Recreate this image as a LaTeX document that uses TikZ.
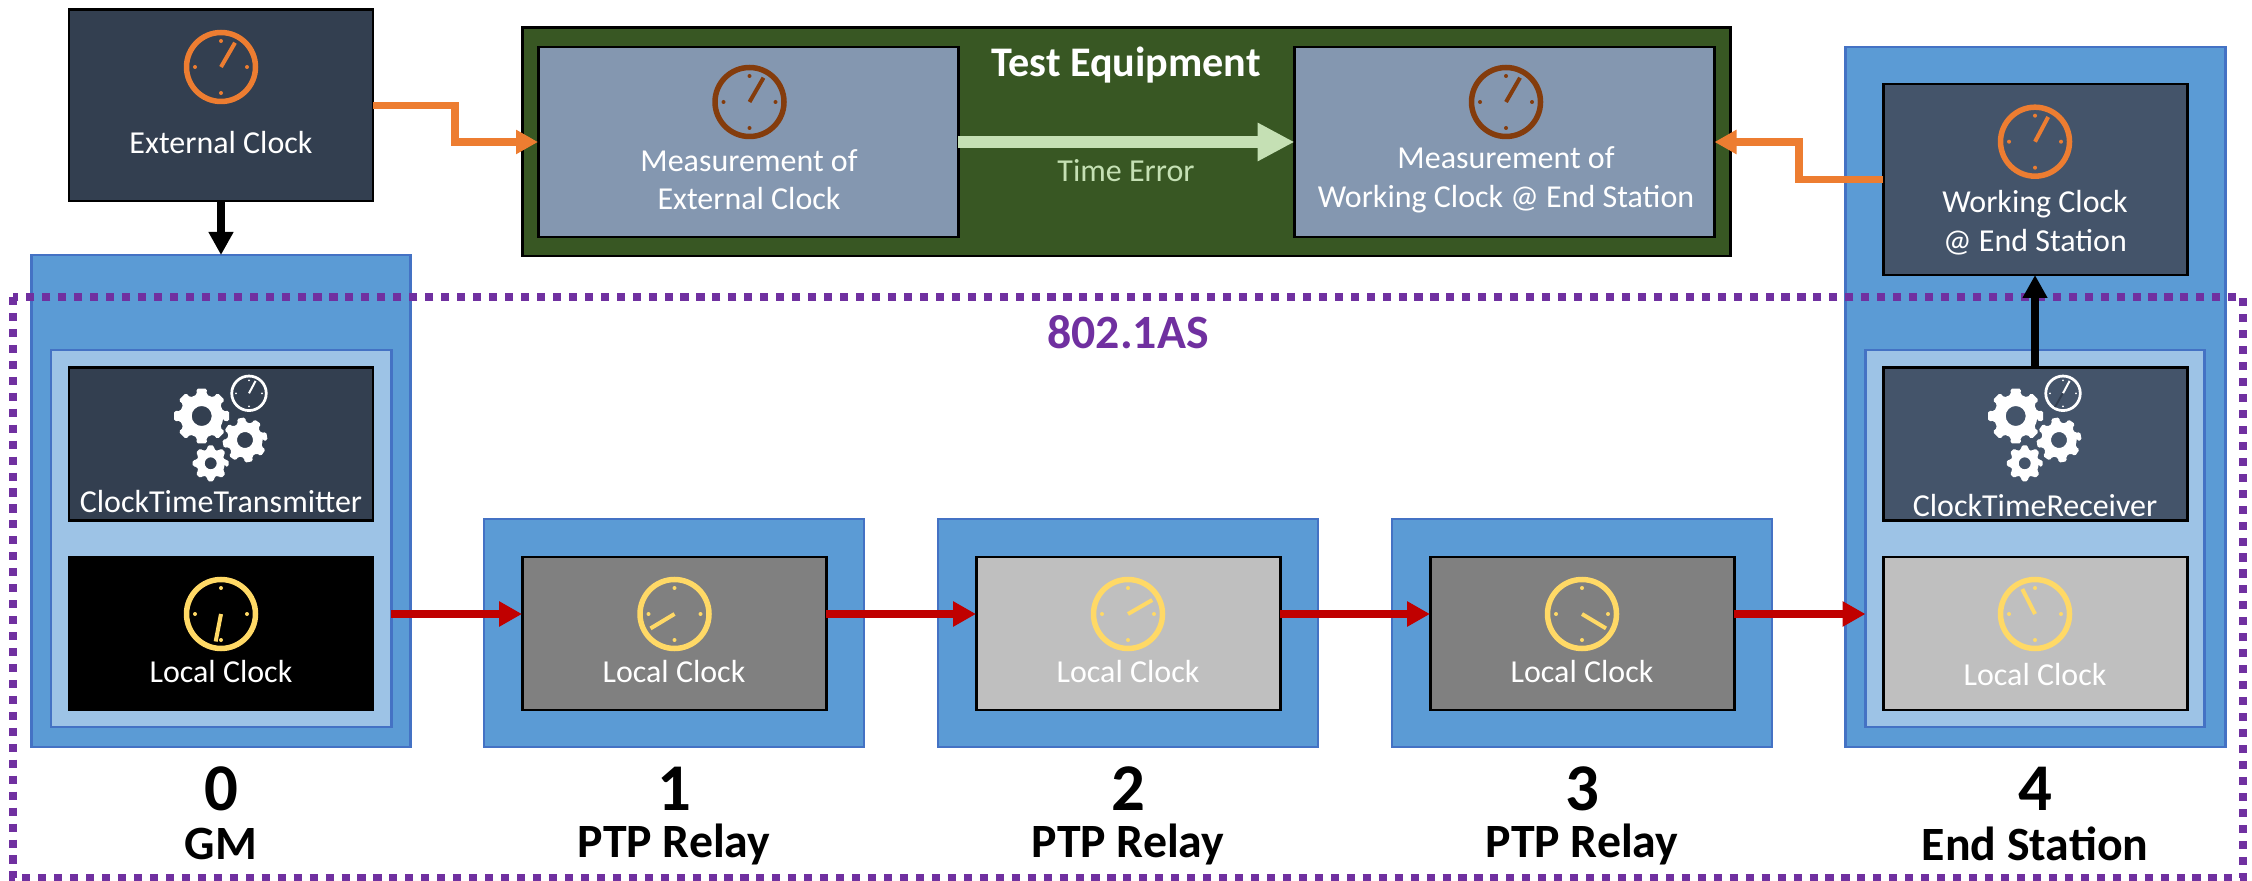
\documentclass[tikz,border=0pt]{standalone}
\usepackage{fontspec}
\setmainfont{Carlito}
\usetikzlibrary{arrows.meta,positioning}

\definecolor{navybox}{HTML}{333F50}
\definecolor{slatebox}{HTML}{44546A}
\definecolor{measbox}{HTML}{8497B0}
\definecolor{testgreen}{HTML}{385723}
\definecolor{timegreen}{HTML}{C5E0B4}
\definecolor{nodeblue}{HTML}{5B9BD5}
\definecolor{panelblue}{HTML}{9DC3E6}
\definecolor{edgeblue}{HTML}{4472C4}
\definecolor{clockorange}{HTML}{ED7D31}
\definecolor{clockbrown}{HTML}{843C0C}
\definecolor{clockyellow}{HTML}{FFD966}
\definecolor{syncpurple}{HTML}{7030A0}
\definecolor{syncred}{HTML}{C00000}

% x, y, color, angle of the hand, size
\newcommand{\drawclock}[5]{
  \begin{scope}[shift={(#1,#2)}, scale=#5]
    \draw[#3, line width={#5*0.055cm}] (0,0) circle (0.345);
    \draw[#3, line width={#5*0.04cm}] (0,0) -- (#4:0.28);
    \fill[#3] (0,0.26) circle (0.02) (0.26,0) circle (0.02) (0,-0.26) circle (0.02) (-0.26,0) circle (0.02);
  \end{scope}
}
% x, y, outer radius, hole radius, rotation
\newcommand{\drawgear}[5]{
  \fill[white, even odd rule, rounded corners=0.5pt, shift={(#1,#2)}, rotate=#5]
    (-12.5:#3*0.78)
    \foreach \k in {0,...,7} {
      -- (\k*45-11:#3) -- (\k*45+11:#3) -- (\k*45+12.5:#3*0.78) -- (\k*45+32.5:#3*0.78)
    } -- cycle (0,0) circle (#4);
}
% the three gears with the small clock, around the box center
\newcommand{\drawgears}[1]{
  \drawgear{#1-0.193}{-4.16}{0.28}{0.10}{0}
  \drawgear{#1+0.24}{-4.40}{0.227}{0.08}{10}
  \drawgear{#1-0.103}{-4.633}{0.183}{0.06}{0}
  \drawclock{#1+0.28}{-3.933}{white}{62}{0.5}
}

\begin{document}
\begin{tikzpicture}[
    >=Triangle,
    darkbox/.style={rectangle, draw=black, line width=0.85pt, outer sep=0pt, minimum width=3.04cm, minimum height=1.53cm},
    station/.style={rectangle, draw=edgeblue, fill=nodeblue, line width=0.6pt, outer sep=0pt},
    panel/.style={rectangle, draw=edgeblue, fill=panelblue, line width=0.85pt, outer sep=0pt},
    meas/.style={rectangle, draw=black, fill=measbox, line width=0.85pt, outer sep=0pt, minimum width=4.2cm, minimum height=1.9cm},
    txt/.style={text=white, align=center, inner sep=0pt, font=\fontsize{9.1}{11}\selectfont},
    bignum/.style={inner sep=0pt, font=\fontsize{19}{22}\selectfont\bfseries},
    role/.style={inner sep=0pt, font=\fontsize{13.6}{16}\selectfont\bfseries},
    blackarrow/.style={->, >={Triangle[length=2.3mm,width=2.35mm]}, line width=2.25pt, black},
    orangearrow/.style={->, >={Triangle[length=2.2mm,width=2.3mm]}, line width=2.15pt, clockorange},
    redarrow/.style={->, >={Triangle[length=2.3mm,width=2.4mm]}, line width=2.5pt, syncred}
]
\useasboundingbox (0,0) rectangle (22.52,-8.81);

% Test equipment on top
\node[rectangle, draw=black, fill=testgreen, line width=0.85pt, outer sep=0pt, minimum width=12.08cm, minimum height=2.28cm] (test) at (11.26,-1.42) {};
\node[meas] (measext) at (7.48,-1.42) {};
\node[meas] (measwork) at (15.045,-1.42) {};
\node[inner sep=0pt, text=white, font=\fontsize{12}{14}\selectfont\bfseries] (testlbl) at (11.26,-0.65) {Test Equipment};
\node[txt] (measextlbl) at (7.49,-1.795) {Measurement of\\External Clock};
\node[txt] (measworklbl) at (15.06,-1.795) {Measurement of\\Working Clock @ End Station};
\node[txt, text=timegreen] (timelbl) at (11.26,-1.71) {Time Error};
\drawclock{7.495}{-1.02}{clockbrown}{60}{1}
\drawclock{15.06}{-1.02}{clockbrown}{60}{1}

% External clock
\node[darkbox, fill=navybox, minimum height=1.91cm] (extclk) at (2.21,-1.055) {};
\node[txt] (extlbl) at (2.21,-1.43) {External Clock};
\drawclock{2.21}{-0.67}{clockorange}{60}{1}

% Station 0 (GM)
\node[station, minimum width=3.79cm, minimum height=4.92cm] (gm) at (2.21,-5.01) {};
\node[panel, minimum width=3.40cm, minimum height=3.77cm] (gmpanel) at (2.21,-5.385) {};
\node[darkbox, fill=navybox] (ctt) at (2.21,-4.44) {};
\node[darkbox, fill=black] (gmclk) at (2.21,-6.335) {};
\node[txt] (cttlbl) at (2.21,-5.02) {ClockTimeTransmitter};
\node[txt] (gmclklbl) at (2.21,-6.72) {Local Clock};
\drawgears{2.21}
\drawclock{2.21}{-6.14}{clockyellow}{-101}{1}

% Stations 1..3 (relays)
\node[station, minimum width=3.80cm, minimum height=2.28cm] (relayone) at (6.74,-6.33) {};
\node[darkbox, fill=black!50] (clkone) at (6.74,-6.335) {};
\node[txt] (clkonelbl) at (6.74,-6.72) {Local Clock};
\drawclock{6.745}{-6.14}{clockyellow}{211}{1}

\node[station, minimum width=3.80cm, minimum height=2.28cm] (relaytwo) at (11.28,-6.33) {};
\node[darkbox, fill=black!25] (clktwo) at (11.28,-6.335) {};
\node[txt] (clktwolbl) at (11.28,-6.72) {Local Clock};
\drawclock{11.28}{-6.14}{clockyellow}{30}{1}

\node[station, minimum width=3.80cm, minimum height=2.28cm] (relaythree) at (15.82,-6.33) {};
\node[darkbox, fill=black!50] (clkthree) at (15.82,-6.335) {};
\node[txt] (clkthreelbl) at (15.82,-6.72) {Local Clock};
\drawclock{15.82}{-6.14}{clockyellow}{-31}{1}

% Station 4 (end station)
\node[station, minimum width=3.80cm, minimum height=7.00cm] (endst) at (20.355,-3.97) {};
\node[panel, minimum width=3.39cm, minimum height=3.77cm] (endpanel) at (20.35,-5.385) {};
\node[darkbox, fill=slatebox, minimum height=1.91cm] (workclk) at (20.35,-1.795) {};
\node[darkbox, fill=slatebox] (ctr) at (20.35,-4.44) {};
\node[darkbox, fill=black!25] (endclk) at (20.35,-6.335) {};
\node[txt] (worklbl) at (20.35,-2.225) {Working Clock\\@ End Station};
\node[txt] (ctrlbl) at (20.35,-5.06) {ClockTimeReceiver};
\node[txt] (endclklbl) at (20.35,-6.75) {Local Clock};
\drawclock{20.35}{-1.417}{clockorange}{62}{1}
\drawclock{20.35}{-6.14}{clockyellow}{117}{1}
\drawgears{20.35}
\draw[navybox, line width=0.55pt] (20.627,-3.933) -- (20.55,-4.07);

% 802.1AS domain, dots go over the stations
\draw[syncpurple, line width=2.3pt, dash pattern=on 2.3pt off 2.24pt] (0.13,-2.97) rectangle (22.43,-8.78);
\node[inner sep=0pt, text=syncpurple, font=\fontsize{13.6}{16}\selectfont\bfseries] (aslbl) at (11.28,-3.32) {802.1AS};

% Labels below the stations
\node[bignum] (numzero) at (2.21,-7.89) {0};
\node[role] (rolezero) at (2.21,-8.44) {GM};
\node[bignum] (numone) at (6.74,-7.89) {1};
\node[role] (roleone) at (6.74,-8.44) {PTP Relay};
\node[bignum] (numtwo) at (11.28,-7.89) {2};
\node[role] (roletwo) at (11.28,-8.44) {PTP Relay};
\node[bignum] (numthree) at (15.82,-7.89) {3};
\node[role] (rolethree) at (15.82,-8.44) {PTP Relay};
\node[bignum] (numfour) at (20.35,-7.89) {4};
\node[role] (rolefour) at (20.35,-8.44) {End Station};

% Connections
\draw[blackarrow] (extclk.south) -- (gm.north);
\draw[blackarrow] (ctr.north) -- (workclk.south);
\draw[orangearrow] (extclk.east) -- ++(0.82,0) |- (measext.west);
\draw[orangearrow] (workclk.west) -- ++(-0.84,0) |- (measwork.east);
\draw[->, >={Triangle[length=3.7mm,width=3.6mm]}, line width=3.4pt, timegreen] (measext.east) -- (measwork.west);
\draw[redarrow] ([yshift=0.195cm]gmclk.east -| gmpanel.east) -- ([yshift=0.195cm]clkone.west);
\draw[redarrow] ([yshift=0.195cm]clkone.east) -- ([yshift=0.195cm]clktwo.west);
\draw[redarrow] ([yshift=0.195cm]clktwo.east) -- ([yshift=0.195cm]clkthree.west);
\draw[redarrow] ([yshift=0.195cm]clkthree.east) -- ([yshift=0.195cm]endclk.west -| endpanel.west);
\end{tikzpicture}
\end{document}
